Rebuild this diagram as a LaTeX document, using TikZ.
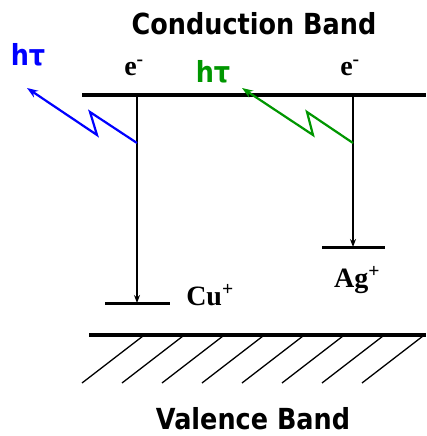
\documentclass[tikz,border=0pt]{standalone}
\usepackage{fontspec}
\setmainfont{Liberation Serif}
\newfontfamily\bandfont{DejaVu Sans}[FakeStretch=0.88]
\usepackage{xcolor}
\usetikzlibrary{arrows.meta,positioning,calc}
\definecolor{photongreen}{RGB}{0,150,0}

\begin{document}
\begin{tikzpicture}[
  x=1pt, y=-1pt,
  band/.style={line width=3.2pt},
  level/.style={line width=3pt},
  trans/.style={-{Stealth[length=8pt,width=6pt]}, line width=1.4pt},
  photon/.style={-{Stealth[length=11pt,width=8pt]}, line width=2.2pt},
  hatch/.style={line width=1.3pt},
  bandlabel/.style={anchor=base, inner sep=0pt, font=\bandfont\bfseries\fontsize{29}{34}\selectfont},
  hlabel/.style={anchor=base, inner sep=0pt, font=\bandfont\bfseries\fontsize{29}{34}\selectfont},
  ion/.style={anchor=base, inner sep=0pt, font=\bfseries\fontsize{28}{32}\selectfont}
]
\useasboundingbox (0,0) rectangle (426,436);
% bands
\coordinate (cbL) at (82,95);
\coordinate (cbR) at (426,95);
\coordinate (vbL) at (89,335);
\coordinate (vbR) at (426,335);
\draw[band] (cbL) -- (cbR);
\draw[band] (vbL) -- (vbR);
\foreach \i in {0,...,7}
  \draw[hatch] (82+40*\i,383) -- ++(61,-47);
\node[bandlabel] (cb) at (254,35) {Conduction Band};
\node[bandlabel] (vb) at (253,429) {Valence Band};
% impurity levels
\coordinate (cuL) at (105,303);
\coordinate (cuR) at (170,303);
\coordinate (agL) at (322,247);
\coordinate (agR) at (385,247);
\draw[level] (cuL) -- (cuR);
\draw[level] (agL) -- (agR);
\node[ion] (cu) at (210,305) {Cu\textsuperscript{+}};
\node[ion] (ag) at (357,287) {Ag\textsuperscript{+}};
% electron transitions
\coordinate (eCu) at (137,95);
\coordinate (eAg) at (353,95);
\node[ion] (e1) at (134,75) {e\textsuperscript{-}};
\node[ion] (e2) at (350,75) {e\textsuperscript{-}};
\draw[trans] (eCu) -- (eCu |- cuL);
\draw[trans] (eAg) -- (eAg |- agL);
% emitted photons
\coordinate (pCu) at (137,143);
\coordinate (pAg) at (353,143);
\coordinate (tipCu) at (27,88);
\coordinate (tipAg) at (242,88);
\draw[photon, blue] (pCu) -- ++(-47,-31) -- ++(7,23) -- (tipCu);
\draw[photon, photongreen] (pAg) -- ++(-46,-31) -- ++(6,23) -- (tipAg);
\node[hlabel, blue] (h1) at (28,66) {hτ};
\node[hlabel, photongreen] (h2) at (213,82) {hτ};
\end{tikzpicture}
\end{document}
